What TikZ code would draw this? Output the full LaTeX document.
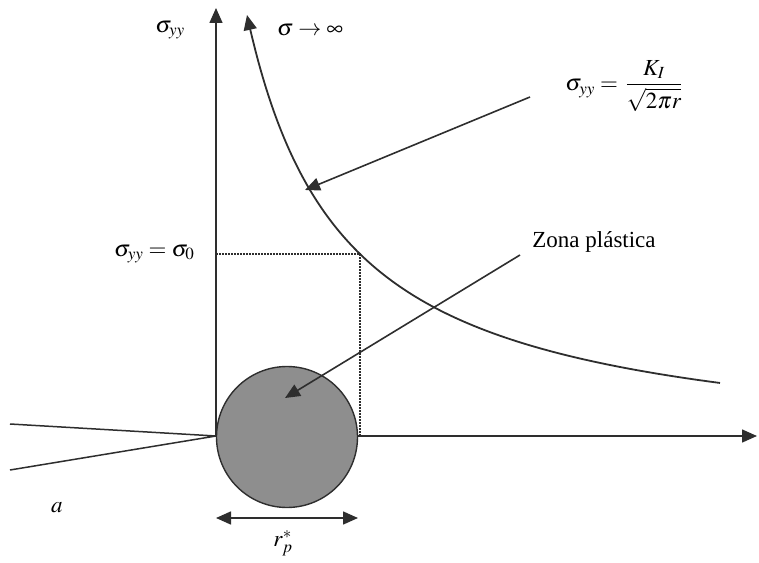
\documentclass[tikz,border=0pt]{standalone}
\usepackage{amsmath}
\usepackage{mathptmx}
\usepackage[no-math]{fontspec}
\setmainfont{Liberation Serif}
\usepackage{tikz}
\usetikzlibrary{arrows.meta,calc,positioning}
\definecolor{ink}{HTML}{2E2E2E}
\definecolor{zonegray}{HTML}{8E8E8E}

\begin{document}
\begin{tikzpicture}[x=1pt,y=1pt,
    font=\fontsize{23}{27}\selectfont,
    >={Triangle[length=15pt,width=13pt]},
    axis/.style={ink,line width=1.5pt},
    pointer/.style={->,ink,line width=1.6pt,shorten <=0pt}]
  \useasboundingbox (-216,-126) rectangle (543,436);
  % axes and crack
  \coordinate (O) at (0,0);
  \coordinate (ytop) at (0,428);
  \coordinate (xend) at (541,0);
  \coordinate (c1) at (-206,12);
  \coordinate (c2) at (-206,-34);
  \draw[axis,->] (O) -- (ytop);
  \draw[axis,->] (O) -- (xend);
  \draw[axis] (c1) -- (O) -- (c2);
  % stress field near the tip
  \draw[ink,line width=1.8pt,->,samples=160,domain=504:31,smooth]
    plot (\x,{427.27/((\x+65.45)/100)-22});
  \coordinate (yield) at (144,182);
  \draw[ink,line width=1.6pt,dash pattern=on 1.6pt off 1.4pt] (0,182) -- (yield) -- (144,0);
  % plastic zone
  \node[circle,draw=ink,line width=1.4pt,fill=zonegray,minimum size=141pt,inner sep=0pt] (zone) at (71,-1) {};
  \coordinate (rl) at (0,-82);
  \coordinate (rr) at (142,-82);
  \draw[<->,ink,line width=1.6pt] (rl) -- (rr);
  % labels
  \node (syy) at (-46,406) {$\sigma_{yy}$};
  \node (sinf) at (94,406) {$\sigma\to\infty$};
  \node (law) at (408,350) {$\sigma_{yy}=\,\dfrac{K_I}{\sqrt{2\pi r}}$};
  \node (zona) at (378,194) {Zona plástica};
  \node[anchor=east] (s0) at (-18,182) {$\sigma_{yy}=\sigma_0$};
  \node (rp) at (67,-107) {$r_p^*$};
  \node (acrack) at (-159,-72) {$a$};
  % pointers
  \coordinate (p1s) at (314,339);
  \coordinate (p1e) at (89,246);
  \coordinate (p2s) at (304,181);
  \coordinate (p2e) at (69,38);
  \draw[pointer] (p1s) -- (p1e);
  \draw[pointer] (p2s) -- (p2e);
\end{tikzpicture}
\end{document}
